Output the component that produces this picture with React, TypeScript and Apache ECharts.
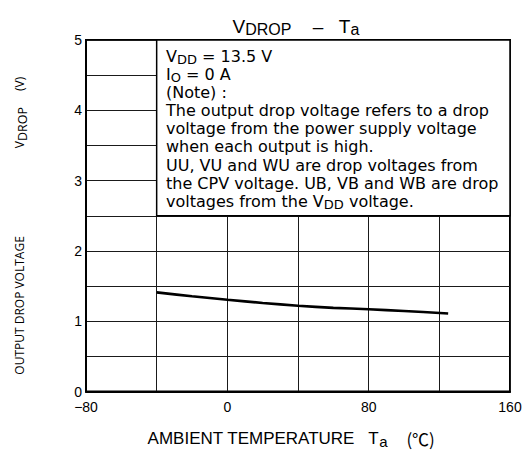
import React, { useEffect, useRef } from "react";
import * as echarts from "echarts";

const temps = [-40, -20, 0, 20, 40, 60, 80, 100, 125];
const vdrop = [1.41, 1.355, 1.305, 1.26, 1.22, 1.19, 1.17, 1.145, 1.11];
const xTickValues = [-80, 0, 80, 160];
const xTickLabels = ["\u221280", "0", "80", "160"];
const yTickValues = [0, 1, 2, 3, 4, 5];
const yTickLabels = ["0", "1", "2", "3", "4", "5"];
const noteBox = { x0: -40, x1: 160, y0: 2.5, y1: 5 };
const noteLines = [
  "{v|V}{s|DD}{v| = 13.5 V}",
  "{v|I}{s|O}{v| = 0 A}",
  "{v|(Note) :}",
  "{v|The output drop voltage refers to a drop}",
  "{v|voltage from the power supply voltage}",
  "{v|when each output is high.}",
  "{v|UU, VU and WU are drop voltages from}",
  "{v|the CPV voltage. UB, VB and WB are drop}",
  "{v|voltages from the V}{s|DD}{v| voltage.}",
];

const NOTE_FONT = "'DejaVu Sans', sans-serif";
const YNAME_FONT = "'Open Sans', 'Noto Sans', sans-serif";
const ARIAL = "'Liberation Sans', Arial, sans-serif";

export default function App() {
  const ref = useRef<HTMLDivElement>(null);
  useEffect(() => {
    if (!ref.current) return;
    const chart = echarts.init(ref.current, null, { renderer: "svg" });
    chart.setOption({
      animation: false,
      backgroundColor: "#fff",
      title: {
        text: "{a|V}{b|DROP}{a|    \u2013   T}{b|a}",
        left: 291,
        textAlign: "center",
        top: 10,
        textStyle: {
          fontWeight: "normal",
          rich: {
            a: { fontFamily: ARIAL, fontSize: 19, fontWeight: "normal", color: "#000", lineHeight: 22 },
            b: { fontFamily: ARIAL, fontSize: 16, fontWeight: "normal", color: "#000", lineHeight: 16, padding: [6, 0, 0, 0] },
          },
        },
      },
      grid: {
        left: 86,
        right: 18,
        top: 40,
        bottom: 59,
        show: true,
        borderColor: "#000",
        borderWidth: 2,
        backgroundColor: "#fff",
      },
      graphic: [
        {
          type: "text",
          left: 166,
          top: 47,
          z: 100,
          style: {
            text: noteLines.join("\n"),
            fontFamily: NOTE_FONT,
            fontSize: 16,
            lineHeight: 18.1,
            fill: "#000",
            rich: {
              v: { fontFamily: NOTE_FONT, fontSize: 16, fill: "#000", lineHeight: 18.1 },
              s: { fontFamily: NOTE_FONT, fontSize: 13, fill: "#000", lineHeight: 12, padding: [6, 0, 0, 0] },
            },
          },
        },
      ],
      xAxis: {
        type: "value",
        min: -80,
        max: 160,
        interval: 40,
        axisLine: { show: true, onZero: false, lineStyle: { color: "#000", width: 2 } },
        axisTick: { show: false },
        splitLine: { show: true, lineStyle: { color: "#1a1a1a", width: 1 } },
        axisLabel: {
          color: "#000",
          fontFamily: ARIAL,
          fontSize: 14,
          margin: 8,
          formatter: (v: number) => {
            const i = xTickValues.indexOf(v);
            return i >= 0 ? xTickLabels[i] : "";
          },
        },
        name: "{v|AMBIENT TEMPERATURE   T}{s|a}{v|    }{c|(\u2103)}",
        nameLocation: "middle",
        nameGap: 37,
        nameTextStyle: {
          padding: [0, 14, 0, 0],
          rich: {
            v: { fontFamily: ARIAL, fontSize: 17, color: "#000", lineHeight: 20 },
            s: { fontFamily: ARIAL, fontSize: 15, color: "#000", lineHeight: 14, padding: [6, 0, 0, 0] },
            c: { fontFamily: "'Noto Sans CJK JP', serif", fontSize: 17, color: "#000", lineHeight: 20 },
          },
          fontFamily: ARIAL,
          fontSize: 17,
          color: "#000",
        },
      },
      yAxis: {
        type: "value",
        min: 0,
        max: 5,
        interval: 0.5,
        axisLine: { show: true, onZero: false, lineStyle: { color: "#000", width: 2 } },
        axisTick: { show: false },
        splitLine: { show: true, lineStyle: { color: "#1a1a1a", width: 1 } },
        axisLabel: {
          color: "#000",
          fontFamily: ARIAL,
          fontSize: 14,
          margin: 4,
          formatter: (v: number) => {
            const i = yTickValues.indexOf(v);
            return i >= 0 ? yTickLabels[i] : "";
          },
        },
        name: "{v|OUTPUT DROP VOLTAGE}{g1| }{v|V}{s|DROP}{g2| }{v|(V)}",
        nameLocation: "middle",
        nameGap: 58,
        nameRotate: 90,
        nameTextStyle: {
          fontFamily: YNAME_FONT,
          fontSize: 12,
          color: "#000",
          padding: [0, 20, 0, 0],
          rich: {
            v: { fontFamily: YNAME_FONT, fontSize: 12, color: "#000", lineHeight: 18 },
            s: { fontFamily: YNAME_FONT, fontSize: 12.5, color: "#000", lineHeight: 12, padding: [6, 0, 0, 0] },
            g1: { width: 88, fontSize: 12, lineHeight: 18 },
            g2: { width: 16, fontSize: 12, lineHeight: 18 },
          },
        },
      },
      series: [
        {
          type: "line",
          data: temps.map((t, i) => [t, vdrop[i]]),
          smooth: 0.3,
          showSymbol: false,
          lineStyle: { color: "#000", width: 2.6 },
          z: 5,
          markArea: {
            silent: true,
            itemStyle: { color: "#fff", borderColor: "#000", borderWidth: 1.5, opacity: 1 },
            label: { show: false },
            data: [[{ xAxis: noteBox.x0, yAxis: noteBox.y1 }, { xAxis: noteBox.x1, yAxis: noteBox.y0 }]],
          },
        },
      ],
    });
    return () => chart.dispose();
  }, []);
  return <div ref={ref} style={{ width: 528, height: 454, position: "absolute", left: 0, top: 0 }} />;
}
